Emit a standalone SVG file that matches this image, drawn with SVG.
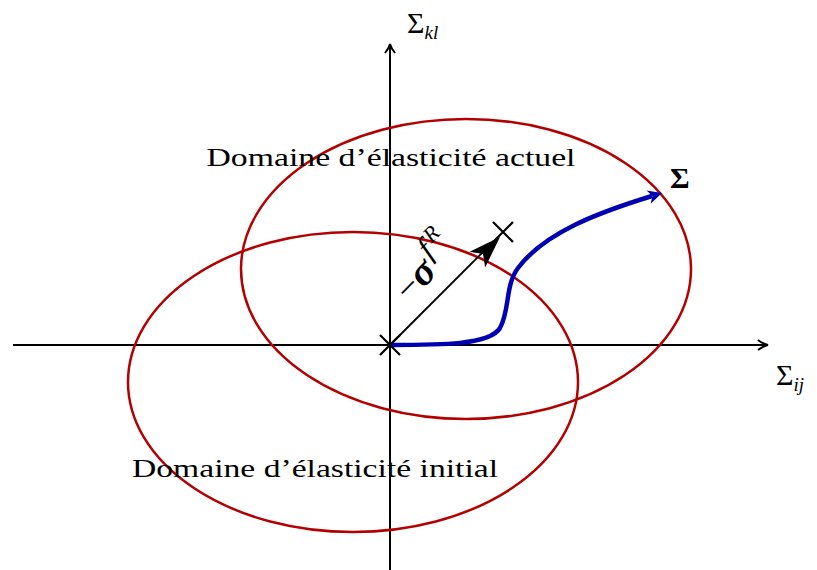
<svg xmlns="http://www.w3.org/2000/svg" width="817" height="570" viewBox="0 0 817 570">
<style>
.ax{stroke:#000;stroke-width:2;fill:none}
.ell{stroke:#b30000;stroke-width:2.5;fill:none}
.lbl{font-family:"Liberation Serif","DejaVu Serif",serif;fill:#000}
.cross{stroke:#000;stroke-width:2.2}
</style>
<rect width="817" height="570" fill="#fff"/>
<g id="axes">
<line class="ax" x1="13" y1="345" x2="766" y2="345"/>
<path d="M758,340 Q763,344 768,345 Q763,346 758,350" class="ax" stroke-width="1.6"/>
<line class="ax" x1="390" y1="570" x2="390" y2="46"/>
<path d="M385,53 Q389,48 390,44 Q391,48 395,53" class="ax" stroke-width="1.6"/>
</g>
<g id="initial-domain">
<ellipse class="ell" cx="353" cy="382" rx="225" ry="150"/>
<text class="lbl" x="315" y="477" style="font-size:26px" text-anchor="middle" textLength="366" lengthAdjust="spacingAndGlyphs">Domaine d’élasticité initial</text>
</g>
<g id="current-domain">
<ellipse class="ell" cx="466" cy="269" rx="225" ry="150"/>
<text class="lbl" x="391" y="166" style="font-size:26px" text-anchor="middle" textLength="369" lengthAdjust="spacingAndGlyphs">Domaine d’élasticité actuel</text>
</g>
<g id="connectors">
<line x1="390" y1="345" x2="494" y2="241" stroke="#000" stroke-width="1.8"/>
<path d="M0,0 L-32,-11 L-24,0 L-32,11 Z" fill="#000" transform="translate(500,237) rotate(-45)"/>
<path d="M390,345 C440,345 490,345 500,328 C510,310 505,285 518,268 C545,232 600,212 652,196" stroke="#0000b3" stroke-width="4.5" fill="none"/>
<path d="M0,0 L-14,-7 L-10,0 L-14,7 Z" fill="#0000b3" transform="translate(662,193) rotate(-17)"/>
</g>
<g id="crosses">
<path class="cross" d="M380,335 L400,355 M400,335 L380,355"/>
<path class="cross" d="M493,222 L513,242 M513,222 L493,242"/>
</g>
<g id="labels">
<text class="lbl" x="407" y="33" style="font-size:30px">Σ<tspan style="font-size:19px;font-style:italic" dy="6">kl</tspan></text>
<text class="lbl" x="776" y="385" style="font-size:30px">Σ<tspan style="font-size:19px;font-style:italic" dy="6">ij</tspan></text>
<text class="lbl" x="670" y="188" style="font-size:30px;font-weight:bold">Σ</text>
<text class="lbl" transform="translate(409,303) rotate(-45)" font-size="36"><tspan>−</tspan><tspan font-weight="bold" font-style="italic" font-size="40">σ</tspan><tspan font-style="italic" font-size="32" dy="-16" dx="3">f</tspan><tspan font-style="italic" font-size="22" dy="-10" dx="4">R</tspan></text>
</g>
</svg>
